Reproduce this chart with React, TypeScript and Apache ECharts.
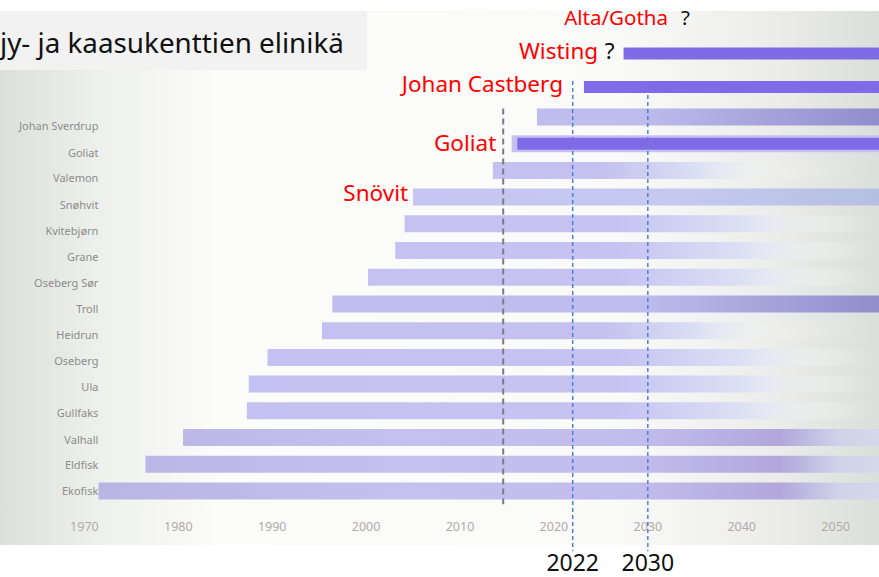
import React, { useEffect, useRef } from 'react';
import * as echarts from 'echarts';

// ---- data ----
const fields = [
  'Johan Sverdrup', 'Goliat', 'Valemon', 'Snøhvit', 'Kvitebjørn', 'Grane', 'Oseberg Sør',
  'Troll', 'Heidrun', 'Oseberg', 'Ula', 'Gullfaks', 'Valhall', 'Eldfisk', 'Ekofisk',
];
const startYear = [
  2018.2, 2015.5, 2013.5, 2005.0, 2004.1, 2003.1, 2000.2,
  1996.4, 1995.3, 1989.5, 1987.5, 1987.3, 1980.5, 1976.5, 1971.5,
];
const endYear = [
  2060, 2060, 2060, 2060, 2060, 2060, 2060,
  2060, 2060, 2060, 2060, 2060, 2060, 2060, 2060,
];
const fieldTone = [
  'dark', 'plain', 'fadeEarly', 'solid', 'fade', 'fade', 'fade',
  'dark', 'fadeEarly', 'fade', 'fade', 'fade', 'purple', 'purple', 'purple',
];

const newFields = ['Alta/Gotha', 'Wisting', 'Johan Castberg'];
const newStart: (number | null)[] = [null, 2027.2, 2023.0];
const newEnd: (number | null)[] = [null, 2060, 2060];
const goliatNewStart = 2016.1;
const goliatNewEnd = 2060;

const xMin = 1970;
const xMax = 2054.3;
const xInterval = 10;
const markerYears = [2022, 2030];
const todayYear = 2014.6;

const titleText = 'jy- ja kaasukenttien elinikä';
const snohvitLabel = 'Snövit';

// ---- styles ----
const W = 879;
const H = 577;
const FONT = 'Noto Sans';
const NEW_COLOR = '#7f6be6';
const RED = '#ff0000';
const GRID_LEFT = 84.4;
const GRID_TOP = 103.6;
const GRID_H = 400.7;
const GRID2_TOP = 3.25;
const GRID2_H = 100.5;

function g(stops: [number, string][]) {
  return new echarts.graphic.LinearGradient(
    0, 0, W, 0,
    stops.map(([x, c]) => ({ offset: x / W, color: c })),
    true,
  );
}

const L = '#c3c1f2';
const tones: Record<string, any> = {
  plain: g([[0, L], [W, L]]),
  fade: g([[0, L], [620, '#c6c3f2'], [740, '#dce0f4'], [830, 'rgba(244,245,242,0.3)'], [W, 'rgba(240,242,240,0)']]),
  fadeEarly: g([[0, L], [600, '#c4c0ef'], [690, '#d9ddf4'], [780, 'rgba(244,245,242,0.2)'], [W, 'rgba(240,242,240,0)']]),
  solid: g([[0, L], [680, '#c5c9f0'], [W, '#b4c0e1']]),
  dark: g([[0, L], [640, '#bebbed'], [W, '#908ecb']]),
  purple: g([[0, '#b7b0e1'], [400, '#c5c0ee'], [640, '#c2bcec'], [780, '#b1a7dc'], [840, '#d0d3e9'], [W, '#d4d8e7']]),
};

export default function App() {
  const ref = useRef<HTMLDivElement>(null);

  useEffect(() => {
    document.body.style.margin = '0';
    const chart = echarts.init(ref.current!, null, { renderer: 'svg' });

    const n = fields.length;
    const rich: Record<string, any> = {};
    fields.forEach((_, i) => {
      rich['p' + i] = {
        padding: [Math.round((2 * 9 * (n - 1 - i)) / (n - 1)), 0, 0, 0],
        color: '#8c8c8c',
        fontSize: 11,
        fontFamily: FONT,
      };
    });

    const gIdx = fields.indexOf('Goliat');
    const sIdx = fields.indexOf('Snøhvit');

    const option: any = {
      animation: false,
      grid: [
        { left: GRID_LEFT, right: 0, top: GRID_TOP, height: GRID_H },
        { left: GRID_LEFT, right: 0, top: GRID2_TOP, height: GRID2_H },
      ],
      xAxis: [
        {
          type: 'value', gridIndex: 0, min: xMin, max: xMax, interval: xInterval,
          axisLine: { show: false }, axisTick: { show: false }, splitLine: { show: false },
          axisLabel: {
            formatter: (v: number) => (Math.abs(v % 10) < 1e-6 ? String(v) : ''),
            color: '#b2a9a9', fontSize: 12.5, fontFamily: FONT, margin: 16,
          },
        },
        { type: 'value', gridIndex: 1, min: xMin, max: xMax, show: false },
      ],
      yAxis: [
        {
          type: 'category', gridIndex: 0, data: fields, inverse: true,
          axisLine: { show: false }, axisTick: { show: false },
          axisLabel: {
            margin: -14,
            formatter: (v: string, i: number) => `{p${i}|${v}}`,
            rich,
          },
        },
        { type: 'category', gridIndex: 0, data: fields, inverse: true, show: false },
        { type: 'category', gridIndex: 1, data: newFields, inverse: true, show: false },
      ],
      series: [
        {
          type: 'bar', stack: 'old', xAxisIndex: 0, yAxisIndex: 0, barWidth: 17, silent: true,
          itemStyle: { color: 'rgba(0,0,0,0)' }, data: startYear,
        },
        {
          type: 'bar', stack: 'old', xAxisIndex: 0, yAxisIndex: 0, barWidth: 17, silent: true, clip: false,
          data: fields.map((f, i) => ({
            value: endYear[i] - startYear[i],
            itemStyle: { color: tones[fieldTone[i]] },
            label: i === sIdx
              ? {
                show: true, position: 'left', distance: 5, offset: [0, -5],
                formatter: snohvitLabel, color: RED, fontSize: 22.5, fontFamily: FONT,
              }
              : { show: false },
          })),
        },
        {
          type: 'bar', stack: 'newG', xAxisIndex: 0, yAxisIndex: 1, barWidth: 12, z: 5, silent: true,
          itemStyle: { color: 'rgba(0,0,0,0)' },
          data: fields.map((_, i) => (i === gIdx ? goliatNewStart : '-')),
        },
        {
          type: 'bar', stack: 'newG', xAxisIndex: 0, yAxisIndex: 1, barWidth: 12, z: 5, silent: true, clip: false,
          itemStyle: { color: NEW_COLOR },
          data: fields.map((f, i) => (i === gIdx
            ? {
              value: goliatNewEnd - goliatNewStart,
              label: {
                show: true, position: 'left', distance: 21, offset: [0, -1],
                formatter: f, color: RED, fontSize: 22.5, fontFamily: FONT,
              },
            }
            : '-')),
        },
        {
          type: 'bar', stack: 'new', xAxisIndex: 1, yAxisIndex: 2, barWidth: 12, z: 5, silent: true,
          itemStyle: { color: 'rgba(0,0,0,0)' },
          data: newStart.map((v) => (v == null ? '-' : v)),
        },
        {
          type: 'bar', stack: 'new', xAxisIndex: 1, yAxisIndex: 2, barWidth: 12, z: 5, silent: true, clip: false,
          itemStyle: { color: NEW_COLOR },
          data: newFields.map((f, i) => {
            const s = newStart[i];
            const e = newEnd[i];
            if (s == null || e == null) return '-';
            const isW = f === 'Wisting';
            return {
              value: e - s,
              label: {
                show: true, position: 'left',
                distance: isW ? 9 : 21, offset: [0, isW ? -3 : -4],
                formatter: isW ? `{r|${f}}  {q|?}` : `{r|${f}}`,
                rich: {
                  r: { color: RED, fontSize: 22.5, fontFamily: FONT },
                  q: { color: '#111', fontSize: 22.5, fontFamily: FONT },
                },
              },
            };
          }),
        },
      ],
    };

    chart.setOption(option);

    const gridBottom = GRID_TOP + GRID_H;
    const xToday = chart.convertToPixel({ xAxisIndex: 0 }, todayYear) as number;
    const ySverTop = (chart.convertToPixel({ yAxisIndex: 0 }, fields[0]) as number) - 8.5;
    const yCastTop = (chart.convertToPixel({ yAxisIndex: 2 }, 'Johan Castberg') as number) - 6;
    const yAlta = chart.convertToPixel({ yAxisIndex: 2 }, 'Alta/Gotha') as number;

    const bg = new echarts.graphic.LinearGradient(0, 0, 1, 0, [
      { offset: 0, color: '#dde0da' },
      { offset: 0.12, color: '#eff1ec' },
      { offset: 0.25, color: '#fcfcfa' },
      { offset: 0.7, color: '#fafaf8' },
      { offset: 0.88, color: '#ecedea' },
      { offset: 1, color: '#dcdedc' },
    ]);

    const graphics: any[] = [
      { type: 'rect', z: -10, silent: true, shape: { x: 0, y: 11, width: W, height: 534 }, style: { fill: bg } },
      { type: 'rect', z: -9, silent: true, shape: { x: 0, y: 11, width: 367, height: 59 }, style: { fill: '#f2f2f2' } },
      {
        type: 'text', z: 10, x: 0, y: 42, silent: true,
        style: { text: titleText, fontSize: 27.8, fontFamily: FONT, fill: '#111', verticalAlign: 'middle' },
      },
      {
        type: 'line', z: 3, silent: true,
        shape: { x1: xToday, y1: ySverTop, x2: xToday, y2: gridBottom },
        style: { stroke: '#7b7a86', lineWidth: 2, lineDash: [6, 4] },
      },
      {
        type: 'text', z: 10, x: 668, y: yAlta - 3, silent: true,
        style: { text: newFields[0], fontSize: 20.5, fontFamily: FONT, fill: RED, align: 'right', verticalAlign: 'middle' },
      },
      {
        type: 'text', z: 10, x: 681, y: yAlta - 3, silent: true,
        style: { text: '?', fontSize: 20.5, fontFamily: FONT, fill: '#111', align: 'left', verticalAlign: 'middle' },
      },
    ];
    markerYears.forEach((yr) => {
      const x = chart.convertToPixel({ xAxisIndex: 0 }, yr) as number;
      graphics.push({
        type: 'line', z: 3, silent: true,
        shape: { x1: x, y1: yCastTop, x2: x, y2: gridBottom + 47 },
        style: { stroke: '#4f7fd6', lineWidth: 1.5, lineDash: [4, 3] },
      });
      graphics.push({
        type: 'text', z: 10, x, y: 562, silent: true,
        style: { text: String(yr), fontSize: 23, fontFamily: FONT, fill: '#111', align: 'center', verticalAlign: 'middle' },
      });
    });

    chart.setOption({ graphic: graphics });

    return () => chart.dispose();
  }, []);

  return <div ref={ref} style={{ width: W, height: H }} />;
}
